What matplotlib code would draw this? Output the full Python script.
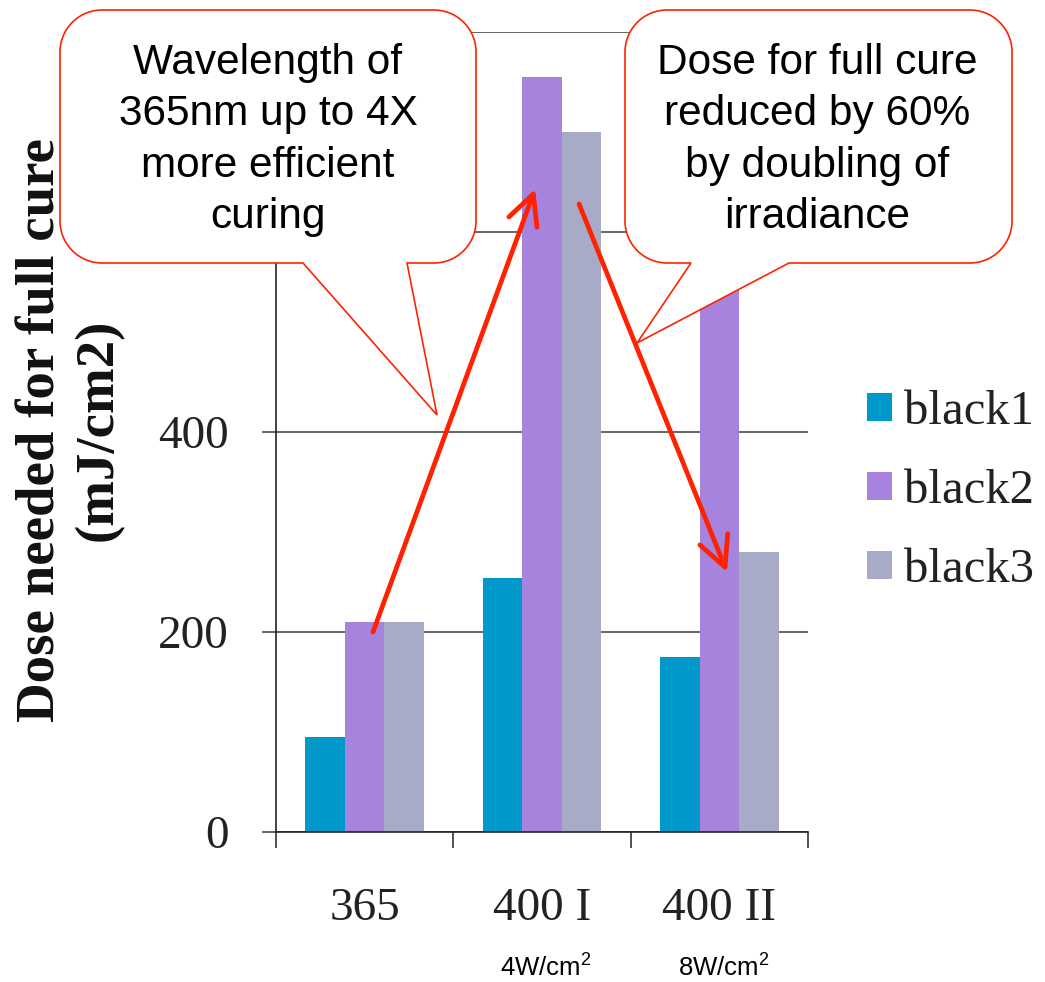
import numpy as np
import matplotlib
matplotlib.use('Agg')
import matplotlib.pyplot as plt
from matplotlib.path import Path
from matplotlib.patches import PathPatch

plt.rcParams['mathtext.fontset'] = 'custom'
plt.rcParams['mathtext.rm'] = 'Liberation Sans'
plt.rcParams['mathtext.it'] = 'Liberation Sans'

# ---------------- data ----------------
categories = ['365', '400 I', '400 II']
sub_labels = ['', '4W/cm$^2$', '8W/cm$^2$']
series_names = ['black1', 'black2', 'black3']
black1 = [95, 254, 175]
black2 = [210, 755, 620]
black3 = [210, 700, 280]
series_values = [black1, black2, black3]
colors = ['#0099CC', '#A683DD', '#A8ABC8']
yticks = [0, 200, 400, 600, 800]
# 600 and 800 labels sit behind the callout in the reference (not visible)
ytick_labels = ['0', '200', '400', '', '']
ylabel_text = 'Dose needed for full cure\n(mJ/cm2)'
callout_left_text = 'Wavelength of\n365nm up to 4X\nmore efficient\ncuring'
callout_right_text = 'Dose for full cure\nreduced by 60%\nby doubling of\nirradiance'

W, H = 1045, 982
SERIF = 'Liberation Serif'
SANS = 'Liberation Sans'

fig = plt.figure(figsize=(W / 100, H / 100), dpi=100)
fig.patch.set_facecolor('white')

ax = fig.add_axes([276 / W, 1 - 832 / H, (808 - 276) / W, (832 - 32) / H])
x = np.arange(len(categories))
bw = 0.223
for i, (vals, name, c) in enumerate(zip(series_values, series_names, colors)):
    ax.bar(x + (i - 1) * bw, vals, width=bw, color=c, label=name, zorder=2)

ax.set_xlim(-0.5, 2.5)
ax.set_ylim(0, 800)
ax.set_axisbelow(True)
ax.set_yticks(yticks)
ax.set_yticklabels(ytick_labels, fontfamily=SERIF)
ax.yaxis.grid(True, color='#3a3a3a', linewidth=1.1)
ax.tick_params(axis='y', length=10, width=1.1, color='#3a3a3a', pad=24,
               labelsize=34, labelcolor='#222222')

ax.set_xticks(x)
ax.set_xticklabels(categories, fontfamily=SERIF, fontsize=34, color='#222222')
ax.set_xticks(np.arange(-0.5, 3, 1.0), minor=True)
ax.tick_params(axis='x', which='major', length=0, pad=40)
ax.tick_params(axis='x', which='minor', length=11.5, width=1.1, color='#222222')

for s in ['top', 'right']:
    ax.spines[s].set_visible(False)
for s in ['left', 'bottom']:
    ax.spines[s].set_color('#222222')
    ax.spines[s].set_linewidth(1.2)

for i, sub in enumerate(sub_labels):
    if sub:
        ax.annotate(sub, xy=(i, 0), xycoords=('data', 'axes fraction'),
                    xytext=(3, -98), textcoords='offset points',
                    ha='center', va='center', fontsize=18.5,
                    fontfamily=SANS, color='black')

# red arrows
arrow_kw = dict(arrowstyle='->,head_length=0.9,head_width=0.45',
                color='#FF2200', lw=3.4, mutation_scale=24, shrinkA=0, shrinkB=0)
ax.annotate('', xy=(0.961, 643), xytext=(0.047, 200), arrowprops=arrow_kw, zorder=5)
ax.annotate('', xy=(2.043, 260), xytext=(1.209, 628), arrowprops=arrow_kw, zorder=5)

# legend
leg = ax.legend(loc='center left', bbox_to_anchor=(867 / W, 1 - 491 / H),
                bbox_transform=fig.transFigure, frameon=False,
                prop={'family': SERIF, 'size': 35},
                handlelength=0.52, handleheight=0.52, handletextpad=0.25,
                labelspacing=0.72, borderpad=0, borderaxespad=0)
for t in leg.get_texts():
    t.set_color('#222222')

# y label
fig.text(70 / W, 1 - 430 / H, ylabel_text, rotation=90, ha='center', va='center',
         multialignment='center', fontsize=39.5, fontweight='bold',
         fontfamily=SERIF, color='#111111', linespacing=1.2)

# ---------------- callouts (overlay in pixel coordinates) ----------------
ov = fig.add_axes([0, 0, 1, 1], zorder=10)
ov.set_xlim(0, W)
ov.set_ylim(H, 0)
ov.axis('off')
ov.patch.set_alpha(0)


def callout(x0, y0, x1, y1, r, base_right, tip, base_left):
    pts = []

    def arc(cx, cy, a0, a1):
        t = np.radians(np.linspace(a0, a1, 20))
        return list(zip(cx + r * np.cos(t), cy + r * np.sin(t)))

    pts += arc(x1 - r, y0 + r, -90, 0)
    pts += arc(x1 - r, y1 - r, 0, 90)
    pts += [(base_right, y1), tip, (base_left, y1)]
    pts += arc(x0 + r, y1 - r, 90, 180)
    pts += arc(x0 + r, y0 + r, 180, 270)
    pts.append(pts[0])
    codes = [Path.MOVETO] + [Path.LINETO] * (len(pts) - 2) + [Path.CLOSEPOLY]
    return PathPatch(Path(pts, codes), facecolor='white', edgecolor='#FF2200',
                     linewidth=1.2, joinstyle='miter')


ov.add_patch(callout(60, 10, 476, 263, 42, 407, (437, 415), 303))
ov.add_patch(callout(625, 10, 1012, 263, 42, 789, (637, 343), 691))

ov.text(268, 140, callout_left_text, ha='center', va='center', fontsize=30.5,
        fontfamily=SANS, color='black', linespacing=1.36)
ov.text(817, 140, callout_right_text, ha='center', va='center', fontsize=30.5,
        fontfamily=SANS, color='black', linespacing=1.36)

fig.savefig('out.png', dpi=100, facecolor='white')
